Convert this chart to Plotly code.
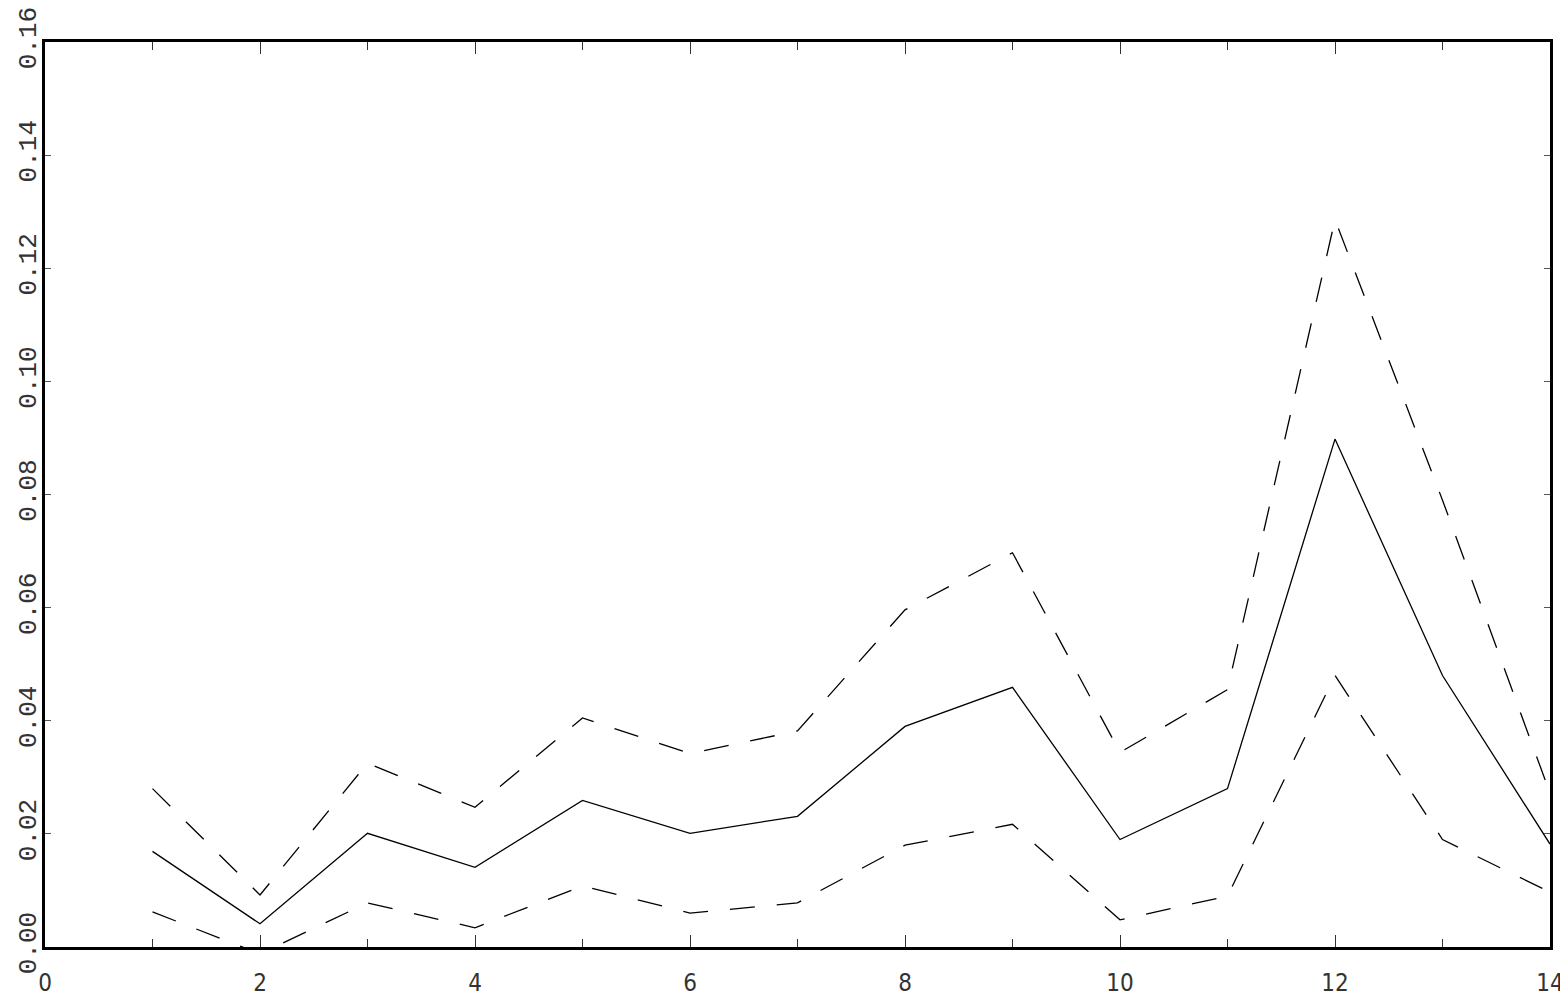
import plotly.graph_objects as go

x_vals = list(range(1, 15))
mean_vals = [0.0169, 0.0041, 0.0201, 0.0141, 0.0259, 0.0201, 0.0231,
             0.0390, 0.0459, 0.0190, 0.0280, 0.0898, 0.0480, 0.0182]
upper_vals = [0.0280, 0.0092, 0.0325, 0.0247, 0.0405, 0.0342, 0.0382,
              0.0596, 0.0697, 0.0344, 0.0455, 0.1286, 0.0790, 0.0272]
lower_vals = [0.0062, -0.0012, 0.0078, 0.0034, 0.0108, 0.0060, 0.0078,
              0.0180, 0.0217, 0.0048, 0.0090, 0.0480, 0.0190, 0.0097]
y_ticks = [0.0, 0.02, 0.04, 0.06, 0.08, 0.10, 0.12, 0.14, 0.16]
y_tick_text = ["0.00", "0.02", "0.04", "0.06", "0.08", "0.10", "0.12", "0.14", "0.16"]
x_ticks = [0, 2, 4, 6, 8, 10, 12, 14]

fig = go.Figure()
dash = "25px,22px"
fig.add_trace(go.Scatter(x=x_vals, y=upper_vals, mode="lines",
                         line=dict(color="black", width=1.3, dash=dash),
                         showlegend=False, hoverinfo="skip"))
fig.add_trace(go.Scatter(x=x_vals, y=lower_vals, mode="lines",
                         line=dict(color="black", width=1.3, dash=dash),
                         showlegend=False, hoverinfo="skip"))
fig.add_trace(go.Scatter(x=x_vals, y=mean_vals, mode="lines",
                         line=dict(color="black", width=1.3),
                         showlegend=False, hoverinfo="skip"))

fig.update_layout(
    width=1560, height=988,
    margin=dict(l=37, r=18, t=34, b=49, autoexpand=False),
    paper_bgcolor="white", plot_bgcolor="white",
    showlegend=False,
)
fig.update_xaxes(
    range=[0, 14], tickmode="array", tickvals=x_ticks,
    ticktext=[str(v) for v in x_ticks],
    ticks="inside", ticklen=12, tickwidth=1.3, tickcolor="#333",
    minor=dict(dtick=1, tick0=0, ticks="inside", ticklen=8, tickwidth=1.3, tickcolor="#333", showgrid=False),
    showline=True, linewidth=3, linecolor="black", mirror="ticks",
    showgrid=False, zeroline=False,
    ticklabelstandoff=12, ticklabeloverflow="allow",
    tickfont=dict(family="Liberation Sans Narrow, DejaVu Sans Condensed, sans-serif", size=24, color="#333"),
)
fig.update_yaxes(
    range=[0, 0.16], tickmode="array", tickvals=y_ticks, ticktext=y_tick_text,
    tickangle=-90,
    ticks="inside", ticklen=6, tickwidth=1.3, tickcolor="#555",
    showline=True, linewidth=3, linecolor="black", mirror="ticks",
    showgrid=False, zeroline=False,
    ticklabelstandoff=-4, ticklabeloverflow="allow",
    tickfont=dict(family="Liberation Mono, DejaVu Sans Mono, monospace", size=26, color="#333"),
)

fig.write_html("out.html")
